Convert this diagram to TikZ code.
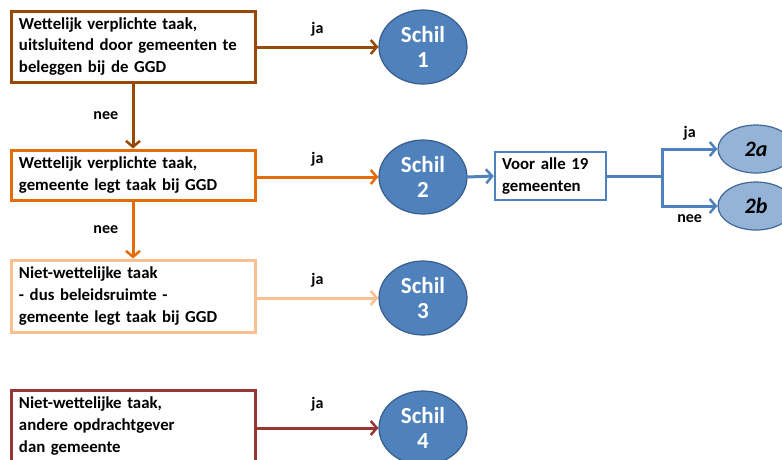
\documentclass[tikz,border=0pt]{standalone}
\usepackage{fontspec}
\setmainfont{Carlito}
\usepackage{xcolor}
\usetikzlibrary{shapes.geometric,positioning,calc,arrows.meta}
\definecolor{bruin}{HTML}{984807}
\definecolor{oranje}{HTML}{E46C0A}
\definecolor{licht}{HTML}{FAC090}
\definecolor{rood}{HTML}{953735}
\definecolor{blauw}{HTML}{4F81BD}
\definecolor{donkerblauw}{HTML}{385D8A}
\definecolor{lichtblauw}{HTML}{95B3D7}
\tikzset{
    taak/.style={draw, line width=3pt, fill=white, minimum width=244pt, text width=228pt,
        align=left, inner sep=0pt, font=\bfseries\fontsize{16.8}{21.7}\selectfont},
    schil/.style={ellipse, draw=donkerblauw, line width=1.2pt, fill=blauw, text=white,
        minimum width=88pt, minimum height=74pt, inner sep=0pt, align=center,
        font=\bfseries\fontsize{23}{25.7}\selectfont},
    sub/.style={ellipse, draw=blauw!80!black, line width=1.2pt, fill=lichtblauw,
        minimum width=76pt, minimum height=48pt, inner sep=0pt,
        font=\bfseries\itshape\fontsize{22}{24}\selectfont},
    pijl/.style={line width=3pt, -{Straight Barb[length=6pt,width=14pt,line width=2.5pt]}},
    lbl/.style={font=\bfseries\fontsize{16}{18}\selectfont}
}
\begin{document}
\begin{tikzpicture}[x=1pt, y=-1pt]
    \useasboundingbox (0,0) rectangle (782,459);
    \clip (0,0) rectangle (782,459);
    % linker kolom
    \node[taak, draw=bruin, minimum height=71pt] (t1) at (133,46.5)
        {Wettelijk verplichte taak,\\uitsluitend door gemeenten te\\beleggen bij de GGD};
    \node[taak, draw=oranje, minimum height=50pt] (t2) at (133,175)
        {Wettelijk verplichte taak,\\gemeente legt taak bij GGD};
    \node[taak, draw=licht, minimum height=72pt] (t3) at (133,296)
        {Niet-wettelijke taak\\- dus beleidsruimte -\\gemeente legt taak bij GGD};
    \node[taak, draw=rood, minimum height=72pt] (t4) at (133,426)
        {Niet-wettelijke taak,\\andere opdrachtgever\\dan gemeente};
    % schillen
    \node[schil] (s1) at (423,47) {Schil\\1};
    \node[schil] (s2) at (423,177) {Schil\\2};
    \node[schil] (s3) at (423,298) {Schil\\3};
    \node[schil] (s4) at (423,428) {Schil\\4};
    \node[draw=blauw, line width=2.5pt, minimum width=111pt, minimum height=48pt,
        text width=97pt, align=left, inner sep=0pt,
        font=\bfseries\fontsize{16.8}{21.7}\selectfont] (alle) at (550.5,176)
        {Voor alle 19\\gemeenten};
    \node[sub] (s2a) at (756,149) {2a};
    \node[sub] (s2b) at (756,206) {2b};
    \coordinate (split) at (662,176);
    % pijlen
    \draw[pijl, bruin] (t1.east |- s1) -- (s1.west) node[midway, above=6pt, lbl, text=black] {ja};
    \draw[pijl, oranje] (t2.east |- s2) -- (s2.west) node[midway, above=6pt, lbl, text=black] {ja};
    \draw[pijl, licht] (t3.east |- s3) -- (s3.west) node[midway, above=6pt, lbl, text=black] {ja};
    \draw[pijl, rood] (t4.east |- s4) -- (s4.west) node[midway, above=12pt, lbl, text=black] {ja};
    \draw[pijl, bruin] (t1.south) -- (t2.north) node[midway, left=10pt, lbl, text=black] {nee};
    \draw[pijl, oranje] (t2.south) -- (t3.north) node[midway, left=10pt, lbl, text=black] {nee};
    \draw[pijl, blauw] (s2.east) -- (alle.west);
    \draw[line width=3pt, blauw] (alle.east) -- (split);
    \draw[pijl, blauw] (split) |- (s2a.west) node[pos=0.75, above=4pt, lbl, text=black] {ja};
    \draw[pijl, blauw] (split) |- (s2b.west) node[pos=0.75, below=4pt, lbl, text=black] {nee};
\end{tikzpicture}
\end{document}
